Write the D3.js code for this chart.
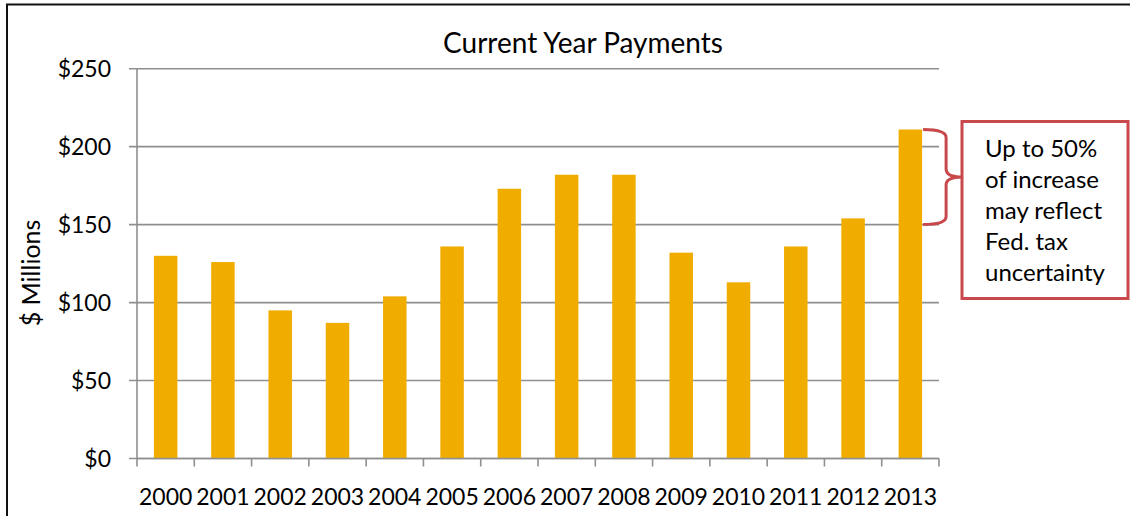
<!DOCTYPE html>
<html>
<head>
<meta charset="utf-8">
<script src="https://cdn.jsdelivr.net/npm/d3@7"></script>
<style>
  html, body { margin: 0; padding: 0; background: #fff; overflow: hidden; }
  svg { display: block; font-family: Lato, "Open Sans", sans-serif; }
</style>
</head>
<body>
<svg id="chart" width="1130" height="516"></svg>
<script>
// Current-year payments, $ millions
const years = ["2000","2001","2002","2003","2004","2005","2006","2007","2008","2009","2010","2011","2012","2013"];
const payments = [130, 126, 95, 87, 104, 136, 173, 182, 182, 132, 113, 136, 154, 211];
const yTicks = [0, 50, 100, 150, 200, 250];
const noteLines = ["Up to 50%", "of increase", "may reflect", "Fed. tax", "uncertainty"];
const noteFrom = 150;   // lower end of the bracketed range on the last bar

const svg = d3.select("#chart");
const W = 1130, H = 516;
const plot = { left: 137, right: 939, top: 68.7, bottom: 458.5 };
const barColor = "#f0ad00";
const gridColor = "#8f8f8f";
const noteColor = "#c8484b";

// outer frame (runs past the right and bottom edges of the page)
svg.append("rect")
  .attr("x", 7).attr("y", 4.5)
  .attr("width", W + 20).attr("height", H + 20)
  .attr("fill", "none").attr("stroke", "#111").attr("stroke-width", 2);

const x = d3.scaleBand().domain(years).range([plot.left, plot.right]).paddingInner(0.59).paddingOuter(0.295);
const xOuter = d3.scaleBand().domain(years).range([plot.left, plot.right]);
const y = d3.scaleLinear().domain([0, 250]).range([plot.bottom, plot.top]);

// gridlines
svg.append("g")
  .selectAll("line").data(yTicks).join("line")
  .attr("x1", plot.left - 8).attr("x2", plot.right)
  .attr("y1", d => y(d)).attr("y2", d => y(d))
  .attr("stroke", gridColor).attr("stroke-width", 1.6);

// y axis line
svg.append("line")
  .attr("x1", plot.left).attr("x2", plot.left)
  .attr("y1", plot.top).attr("y2", plot.bottom)
  .attr("stroke", gridColor).attr("stroke-width", 1.6);

// y tick labels
svg.append("g")
  .selectAll("text").data(yTicks).join("text")
  .attr("x", 111).attr("y", d => y(d)).attr("dy", "0.38em")
  .attr("text-anchor", "end")
  .attr("font-size", 23).attr("fill", "#000")
  .text(d => "$" + d);

// bars
svg.append("g")
  .selectAll("rect").data(payments).join("rect")
  .attr("x", (d, i) => x(years[i]))
  .attr("width", x.bandwidth())
  .attr("y", d => y(d))
  .attr("height", d => y(0) - y(d))
  .attr("fill", barColor);

// x axis baseline and category boundary ticks
svg.append("line")
  .attr("x1", plot.left).attr("x2", plot.right)
  .attr("y1", plot.bottom).attr("y2", plot.bottom)
  .attr("stroke", gridColor).attr("stroke-width", 1.6);
const bounds = years.map(d => xOuter(d)).concat([plot.right]);
svg.append("g")
  .selectAll("line").data(bounds).join("line")
  .attr("x1", d => d).attr("x2", d => d)
  .attr("y1", plot.bottom).attr("y2", plot.bottom + 8)
  .attr("stroke", gridColor).attr("stroke-width", 1.6);

// year labels
svg.append("g")
  .selectAll("text").data(years).join("text")
  .attr("x", d => xOuter(d) + xOuter.bandwidth() / 2)
  .attr("y", 505)
  .attr("text-anchor", "middle")
  .attr("font-size", 23).attr("fill", "#000")
  .text(d => d);

// axis title
svg.append("text")
  .attr("transform", `translate(40, ${273}) rotate(-90)`)
  .attr("text-anchor", "middle")
  .attr("font-size", 25).attr("fill", "#000")
  .text("$ Millions");

// chart title
svg.append("text")
  .attr("x", 583).attr("y", 53)
  .attr("text-anchor", "middle")
  .attr("font-size", 28).attr("fill", "#000")
  .text("Current Year Payments");

// bracket on the last bar
const last = years.length - 1;
const bx0 = x(years[last]) + x.bandwidth() + 1;
const bx1 = bx0 + 23;
const yTop = y(payments[last]), yBot = y(noteFrom), yMid = (yTop + yBot) / 2;
const tip = 962;
const br = d3.path();
br.moveTo(bx0, yTop);
br.quadraticCurveTo(bx1, yTop, bx1, yTop + 8);
br.lineTo(bx1, yMid - 8);
br.quadraticCurveTo(bx1, yMid, tip, yMid);
br.quadraticCurveTo(bx1, yMid, bx1, yMid + 8);
br.lineTo(bx1, yBot - 8);
br.quadraticCurveTo(bx1, yBot, bx0, yBot);
svg.append("path").attr("d", br.toString())
  .attr("fill", "none").attr("stroke", noteColor).attr("stroke-width", 3);

// note box
svg.append("rect")
  .attr("x", 962).attr("y", 121.5).attr("width", 166).attr("height", 177)
  .attr("fill", "#fff").attr("stroke", noteColor).attr("stroke-width", 3);
svg.append("g")
  .selectAll("text").data(noteLines).join("text")
  .attr("x", 985).attr("y", (d, i) => 157 + i * 31)
  .attr("font-size", 24).attr("fill", "#000")
  .text(d => d);
</script>
</body>
</html>
